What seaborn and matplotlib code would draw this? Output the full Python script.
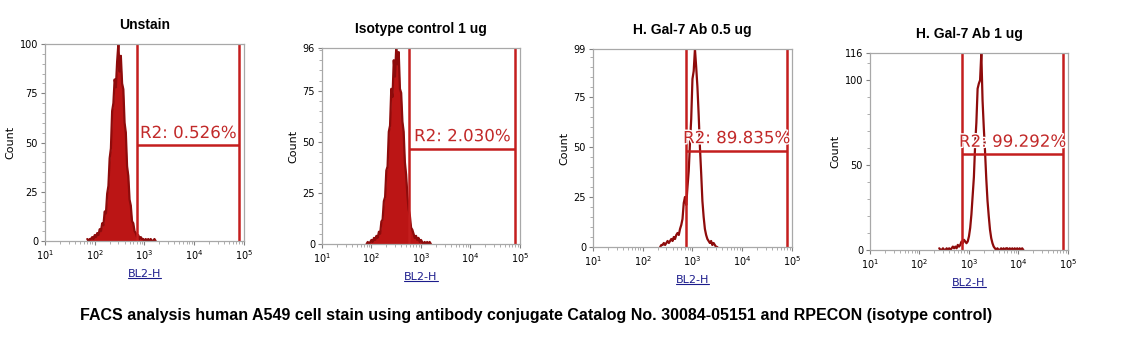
import numpy as np
import pandas as pd
import matplotlib
matplotlib.use('Agg')
import matplotlib.pyplot as plt
import matplotlib.patheffects as pe
import seaborn as sns
from matplotlib.ticker import LogLocator, FixedLocator, FuncFormatter, NullFormatter, MultipleLocator
from matplotlib.lines import Line2D

# Paineis (titulos)
titles = ['Unstain', 'Isotype control 1 ug', 'H. Gal-7 Ab 0.5 ug', 'H. Gal-7 Ab 1 ug']

# Histogramas: contagem por canal, canais em log10(BL2-H) a partir de log_start, passo log_step
log_step = 0.025
log_start = [1.85, 1.9, 2.35, 2.4]

counts_unstain = [1, 0, 1, 1, 2, 1, 3, 2, 4, 3, 6, 5, 9, 8, 15, 14, 24, 28, 42, 47,
                  66, 70, 82, 78, 91, 100, 86, 94, 80, 77, 60, 55, 38, 33, 21, 18, 10, 9, 5, 4,
                  2, 3, 1, 2, 1, 1, 0, 1, 0, 1, 0, 1, 0, 0, 1, 0]
counts_isotype = [0, 1, 0, 1, 2, 1, 3, 2, 4, 3, 6, 5, 11, 12, 21, 23, 36, 38, 55, 58,
                  76, 72, 90, 82, 96, 88, 94, 76, 74, 60, 55, 40, 34, 24, 17, 14, 8, 7, 5, 3,
                  4, 2, 3, 1, 2, 1, 0, 1, 0, 1, 0, 1, 0]
counts_gal7_05 = [0, 1, 1, 2, 1, 2, 3, 2, 3, 4, 3, 5, 4, 6, 7, 6, 9, 11, 14, 22,
                  25, 21, 30, 38, 52, 64, 84, 88, 99, 90, 80, 66, 50, 37, 23, 15, 9, 6, 4, 3,
                  2, 3, 1, 2, 1, 0, 0]
counts_gal7_1 = [1, 0, 0, 1, 0, 0, 1, 0, 1, 0, 1, 2, 1, 2, 1, 3, 2, 3, 5, 4,
                 6, 5, 4, 5, 8, 13, 21, 32, 43, 62, 75, 95, 98, 100, 116, 88, 72, 58, 42, 29,
                 20, 12, 7, 4, 2, 1, 0, 1, 0, 0, 1, 0, 1, 0, 1, 1, 0, 1, 0, 1,
                 0, 1, 0, 1, 0, 1, 0, 1, 0]
counts = [counts_unstain, counts_isotype, counts_gal7_05, counts_gal7_1]

# Eixo Y
y_max = [100, 96, 99, 116]
y_ticks = [[0, 25, 50, 75, 100], [0, 25, 50, 75, 96], [0, 25, 50, 75, 99], [0, 50, 100, 116]]
y_minor = [5, 5, 5, 10]

# Gate R2
gate_lo = [720, 575, 725, 725]
gate_hi = [79000, 81000, 81000, 79000]
gate_level = [48.5, 46.7, 48.2, 56.4]
gate_pct = ['0.526%', '2.030%', '89.835%', '99.292%']

caption = 'FACS analysis human A549 cell stain using antibody conjugate Catalog No. 30084-05151 and RPECON (isotype control)'

sns.set_theme(style='white')
plt.rcParams['font.family'] = ['DejaVu Sans']
plt.rcParams['text.color'] = 'black'
plt.rcParams['axes.labelcolor'] = 'black'

fig = plt.figure(figsize=(11.39, 3.54), dpi=100)
positions = [[0.0395, 0.3192, 0.1747, 0.5565],
             [0.2827, 0.3107, 0.1738, 0.5537],
             [0.5206, 0.3023, 0.1747, 0.5593],
             [0.7638, 0.2938, 0.1738, 0.5565]]

line_color = '#8e0b0b'
fill_color = '#bb1515'
gate_color = '#c41e1e'
fill_panel = [True, True, False, False]

axes = []
for i in range(4):
    ax = fig.add_axes(positions[i])
    axes.append(ax)
    df = pd.DataFrame({
        'BL2-H': 10 ** (log_start[i] + log_step * np.arange(len(counts[i]))),
        'Count': counts[i],
    })
    if fill_panel[i]:
        ax.fill_between(df['BL2-H'], 0, df['Count'], color=fill_color, lw=0)
    sns.lineplot(data=df, x='BL2-H', y='Count', ax=ax, color=line_color,
                 lw=1.6, estimator=None, legend=False)

    # gate R2
    ax.vlines([gate_lo[i], gate_hi[i]], 0, y_max[i], color=gate_color, lw=1.8)
    ax.hlines(gate_level[i], gate_lo[i], gate_hi[i], color=gate_color, lw=1.8)
    ax.annotate('R2: ' + gate_pct[i], xy=(np.sqrt(gate_lo[i] * gate_hi[i]), gate_level[i]),
                xytext=(0, 2.5), textcoords='offset points', ha='center', va='bottom',
                fontsize=12, color='#c22a2a',
                path_effects=[pe.withStroke(linewidth=2, foreground='white')])

    ax.set_xscale('log')
    ax.set_xlim(10, 1e5)
    ax.set_ylim(0, y_max[i])
    ax.xaxis.set_major_locator(LogLocator(base=10, numticks=10))
    ax.xaxis.set_minor_locator(LogLocator(base=10, subs=np.arange(2, 10), numticks=20))
    ax.xaxis.set_major_formatter(FuncFormatter(lambda v, p: r'$10^{%d}$' % round(np.log10(v))))
    ax.xaxis.set_minor_formatter(NullFormatter())
    ax.yaxis.set_major_locator(FixedLocator(y_ticks[i]))
    ax.yaxis.set_minor_locator(MultipleLocator(y_minor[i]))

    for s in ax.spines.values():
        s.set_color('#a8a8a8')
        s.set_linewidth(0.9)
    ax.tick_params(which='major', direction='out', length=3, width=0.8, color='#808080',
                   labelsize=7, pad=2, labelcolor='black', left=True, bottom=True)
    ax.tick_params(which='minor', direction='out', length=2, width=0.6, color='#a0a0a0',
                   left=True, bottom=True)

    ax.set_title(titles[i], fontsize=10, fontweight='bold', family='Liberation Sans',
                 pad=11, color='black')
    ax.set_ylabel('Count', fontsize=8, labelpad=3)
    ax.set_xlabel('BL2-H', fontsize=8, color='#1c1c8c', labelpad=5)

fig.text(0.471, 0.11, caption, ha='center', va='center', fontsize=11.5,
         fontweight='bold', family='Liberation Sans', color='black')

# sublinhado do rotulo BL2-H
fig.canvas.draw()
renderer = fig.canvas.get_renderer()
inv = fig.transFigure.inverted()
for ax in axes:
    bb = ax.xaxis.label.get_window_extent(renderer)
    (x0, y0), (x1, _) = inv.transform([(bb.x0, bb.y0 + 1), (bb.x1, bb.y0 + 1)])
    fig.add_artist(Line2D([x0, x1], [y0, y0], transform=fig.transFigure,
                          color='#1c1c8c', lw=0.8))

fig.savefig('out.png', dpi=100)
